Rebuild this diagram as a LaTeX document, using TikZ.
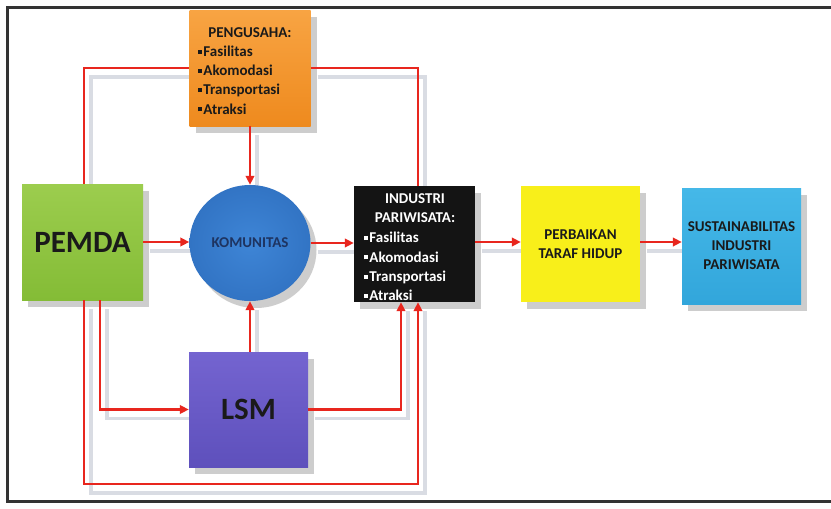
\documentclass[tikz,border=0pt]{standalone}
\usepackage{fontspec}
\setmainfont{Carlito}
\usetikzlibrary{arrows.meta,shapes.geometric,shadows,backgrounds}
\definecolor{redline}{HTML}{E8261E}
\definecolor{framec}{HTML}{333333}
\definecolor{orgT}{HTML}{F8A443}
\definecolor{orgB}{HTML}{EE8A1E}
\definecolor{grnT}{HTML}{9CCD4E}
\definecolor{grnB}{HTML}{84BC36}
\definecolor{bluC}{HTML}{3E85D6}
\definecolor{bluB}{HTML}{3274C4}
\definecolor{yelC}{HTML}{F8EF1A}
\definecolor{skyT}{HTML}{45B8E8}
\definecolor{skyB}{HTML}{32A6DB}
\definecolor{purT}{HTML}{7464D0}
\definecolor{purB}{HTML}{5E50BC}
\definecolor{komtxt}{HTML}{1E3461}
\definecolor{darktxt}{HTML}{1A1A1A}
\definecolor{shadc}{HTML}{D9DCE3}
\newcommand\bul{\rule[0.18em]{0.27em}{0.27em}\kern1.2pt}
\begin{document}
\begin{tikzpicture}[x=1pt,y=-1pt,
  box/.style={draw=none, minimum width=121pt, minimum height=116pt, inner sep=0pt,
    align=center, text=darktxt, font=\bfseries\fontsize{15}{19}\selectfont,
    drop shadow={shadow xshift=6pt,shadow yshift=-7pt,opacity=0.28,fill=black!70}},
  txt/.style={inner sep=0pt, align=left, text=darktxt, font=\bfseries\fontsize{15}{19.3}\selectfont},
  big/.style={font=\bfseries\fontsize{31}{34}\selectfont},
  conn/.style={draw=redline, line width=2.8pt},
  arr/.style={conn, -{Triangle[length=9pt,width=8.5pt]}},
  shad/.style={draw=shadc, line width=3.4pt},
]
\useasboundingbox (0,0) rectangle (831,509);
% frame
\draw[framec, line width=3pt] (831,7) -- (7,7) -- (7,501) -- (831,501);

% boxes
\node[box, top color=orgT, bottom color=orgB] (peng) at (250,68) {};
\node[txt] (pengh) at (250,33) {PENGUSAHA:};
\node[txt, anchor=west] (pengl) at (198,80) {\bul Fasilitas\\\bul Akomodasi\\\bul Transportasi\\\bul Atraksi};

\node[box, top color=grnT, bottom color=grnB, big] (pemda) at (82.5,242) {PEMDA};

\node[box, ellipse, minimum width=121pt, minimum height=116pt, inner color=bluC, outer color=bluB,
  text=komtxt, font=\bfseries\fontsize{15}{19}\selectfont] (kom) at (250,243) {KOMUNITAS};

\node[box, fill=black!92] (ind) at (414.5,244) {};
\node[txt, text=white, align=center] (indh) at (415,208) {INDUSTRI\\PARIWISATA:};
\node[txt, text=white, anchor=west] (indl) at (364,266.5) {\bul Fasilitas\\\bul Akomodasi\\\bul Transportasi\\\bul Atraksi};

\node[box, fill=yelC, minimum width=119pt] (perb) at (580.5,244) {PERBAIKAN\\TARAF HIDUP};

\node[box, top color=skyT, bottom color=skyB, minimum width=119pt] (sust) at (741.5,246) {SUSTAINABILITAS\\INDUSTRI\\PARIWISATA};

\node[box, top color=purT, bottom color=purB, minimum width=119pt, minimum height=115pt, big] (lsm) at (248.5,409.5) {LSM};

% shadow lines
\begin{scope}[on background layer]
\fill[white] (0,0) rectangle (831,509);
\begin{scope}[transform canvas={xshift=7pt,yshift=-9pt}]
\draw[shad] (pemda.north -| 84,0) |- (peng.west);
\draw[shad] (peng.east) -| (ind.north -| 418,0);
\draw[shad] (peng.south) -- (kom.north);
\draw[shad] (pemda.east) -- (pemda.east -| kom.west);
\draw[shad] (kom.east) -- (kom.east -| ind.west);
\draw[shad] (ind.east |- 0,242) -- (perb.west |- 0,242);
\draw[shad] (perb.east |- 0,242) -- (sust.west |- 0,242);
\draw[shad] (lsm.north -| kom.south) -- (kom.south);
\draw[shad] (pemda.south -| 100,0) |- (lsm.west);
\draw[shad] (lsm.east) -| (ind.south -| 401,0);
\draw[shad] (pemda.south -| 84,0) |- (0,484 -| 418,0) -- (ind.south -| 418,0);
\end{scope}
\end{scope}

% red connectors
\draw[conn] (pemda.north -| 84,0) |- (peng.west);
\draw[conn] (peng.east) -| (ind.north -| 418,0);
\draw[arr] (peng.south) -- (kom.north);
\draw[arr] (pemda.east) -- (pemda.east -| kom.west);
\draw[arr] (kom.east) -- (kom.east -| ind.west);
\draw[arr] (ind.east |- 0,242) -- (perb.west |- 0,242);
\draw[arr] (perb.east |- 0,242) -- (sust.west |- 0,242);
\draw[arr] (lsm.north -| kom.south) -- (kom.south);
\draw[arr] (pemda.south -| 100,0) |- (lsm.west);
\draw[arr] (lsm.east) -| (ind.south -| 401,0);
\draw[arr] (pemda.south -| 84,0) |- (0,484 -| 418,0) -- (ind.south -| 418,0);
\end{tikzpicture}
\end{document}
